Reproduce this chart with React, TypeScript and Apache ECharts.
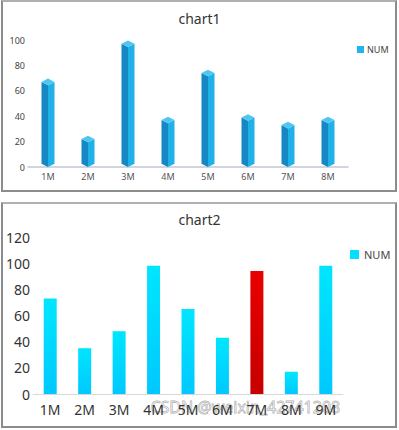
import React, { useEffect, useRef } from "react";
import * as echarts from "echarts";

const months1 = ["1M", "2M", "3M", "4M", "5M", "6M", "7M", "8M"];
const values1 = [67, 22, 97, 37, 74, 39, 33, 37];
const yTicks1 = [0, 20, 40, 60, 80, 100];

const months2 = ["1M", "2M", "3M", "4M", "5M", "6M", "7M", "8M", "9M"];
const values2 = [73, 35, 48, 98, 65, 43, 94, 17, 98];
const highlightMonth2 = "7M";
const yTicks2 = [0, 20, 40, 60, 80, 100, 120];

const seriesName = "NUM";
const FONT = "'Noto Sans', 'Open Sans', sans-serif";

function Chart1() {
  const ref = useRef<HTMLDivElement>(null);
  useEffect(() => {
    const chart = echarts.init(ref.current!, null, { renderer: "svg" });
    const hw = 6.5;
    const o = 3.3;
    chart.setOption({
      animation: false,
      textStyle: { fontFamily: FONT },
      title: {
        text: "chart1",
        left: "center",
        top: 6,
        textStyle: { fontSize: 14, fontWeight: "normal", color: "#333", fontFamily: FONT },
      },
      legend: {
        left: 352,
        top: 40,
        itemWidth: 7,
        itemHeight: 7,
        itemGap: 4,
        icon: "rect",
        textStyle: { fontSize: 9, color: "#444", fontFamily: FONT, padding: [0, 0, 0, -2] },
        data: [{ name: seriesName, itemStyle: { color: "#22b2ec" } }],
      },
      grid: { left: 28, right: 51, top: 40, bottom: 28 },
      xAxis: {
        type: "category",
        data: months1,
        axisLine: { lineStyle: { color: "#c2c8d6", width: 1.5 } },
        axisTick: { length: 3, lineStyle: { color: "#c2c8d6" } },
        axisLabel: { fontSize: 9, color: "#555", margin: 5, fontFamily: FONT },
      },
      yAxis: {
        type: "value",
        min: yTicks1[0],
        max: yTicks1[yTicks1.length - 1],
        interval: 20,
        axisLine: { show: false },
        axisTick: { show: false },
        splitLine: { show: false },
        axisLabel: { fontSize: 9, color: "#444", margin: 3, fontFamily: FONT },
      },
      series: [
        {
          name: seriesName,
          type: "custom",
          itemStyle: { color: "#22b2ec" },
          encode: { x: 0, y: 1 },
          data: values1.map((v, i) => [i, v]),
          renderItem: (params: any, api: any) => {
            const top = api.coord([api.value(0), api.value(1)]);
            const bot = api.coord([api.value(0), 0]);
            const cx = top[0];
            const ty = top[1];
            const by = bot[1];
            return {
              type: "group",
              children: [
                {
                  type: "polygon",
                  shape: { points: [[cx - hw, ty], [cx, ty + o], [cx, by], [cx - hw, by - o]] },
                  style: { fill: "#1588c3" },
                },
                {
                  type: "polygon",
                  shape: { points: [[cx, ty + o], [cx + hw, ty], [cx + hw, by - o], [cx, by]] },
                  style: { fill: "#20b1e9" },
                },
                {
                  type: "polygon",
                  shape: { points: [[cx, ty - o], [cx + hw, ty], [cx, ty + o], [cx - hw, ty]] },
                  style: { fill: "#4fc6f2" },
                },
              ],
            };
          },
        },
      ],
    });
    return () => chart.dispose();
  }, []);
  return <div ref={ref} style={{ position: "absolute", left: 0, top: 0, width: 399, height: 195 }} />;
}

function Chart2() {
  const ref = useRef<HTMLDivElement>(null);
  useEffect(() => {
    const chart = echarts.init(ref.current!, null, { renderer: "svg" });
    const cyan = new echarts.graphic.LinearGradient(0, 0, 0, 1, [
      { offset: 0, color: "#00e6ff" },
      { offset: 1, color: "#00c8ff" },
    ]);
    const red = new echarts.graphic.LinearGradient(0, 0, 0, 1, [
      { offset: 0, color: "#e80000" },
      { offset: 1, color: "#c60000" },
    ]);
    chart.setOption({
      animation: false,
      textStyle: { fontFamily: FONT },
      title: {
        text: "chart2",
        left: "center",
        top: 12,
        textStyle: { fontSize: 14, fontWeight: "normal", color: "#333", fontFamily: FONT },
      },
      legend: {
        left: 345,
        top: 49,
        itemWidth: 9,
        itemHeight: 9,
        icon: "rect",
        textStyle: { fontSize: 11, color: "#444", fontFamily: FONT },
        data: [{ name: seriesName, itemStyle: { color: "#00dfff" } }],
      },
      grid: { left: 33, right: 56, top: 42, bottom: 36 },
      xAxis: {
        type: "category",
        data: months2,
        axisLine: { lineStyle: { color: "#d9d9d9" } },
        axisTick: { length: 4, lineStyle: { color: "#d9d9d9" } },
        axisLabel: { fontSize: 14, color: "#333", margin: 8, fontFamily: FONT },
      },
      yAxis: {
        type: "value",
        min: yTicks2[0],
        max: yTicks2[yTicks2.length - 1],
        interval: 20,
        axisLine: { show: false },
        axisTick: { show: false },
        splitLine: { show: false },
        axisLabel: { fontSize: 14, color: "#333", margin: 3, fontFamily: FONT },
      },
      series: [
        {
          name: seriesName,
          type: "bar",
          barWidth: 13,
          itemStyle: { color: "#00e0ff" },
          data: values2.map((v, i) => ({
            value: v,
            itemStyle: { color: months2[i] === highlightMonth2 ? red : cyan },
          })),
        },
      ],
      graphic: [
        {
          type: "text",
          left: 150,
          top: 204,
          silent: true,
          style: {
            text: "CSDN @weixin_42741208",
            fontSize: 16,
            fontFamily: FONT,
            fill: "rgba(255,255,255,0.35)",
            stroke: "rgba(110,110,110,0.6)",
            lineWidth: 0.8,
          },
        },
      ],
    });
    return () => chart.dispose();
  }, []);
  return <div ref={ref} style={{ position: "absolute", left: 0, top: 195, width: 399, height: 235 }} />;
}

export default function App() {
  const box = (top: number, height: number): React.CSSProperties => ({
    position: "absolute",
    left: 1,
    top,
    width: 396,
    height,
    boxSizing: "border-box",
    borderTop: "2px solid #b0b0b0",
    borderLeft: "2px solid #8c8c8c",
    borderRight: "2px solid #8c8c8c",
    borderBottom: "2px solid #8c8c8c",
    pointerEvents: "none",
  });
  return (
    <div style={{ position: "absolute", left: 0, top: 0, width: 399, height: 430, background: "#fff", overflow: "hidden" }}>
      <Chart1 />
      <Chart2 />
      <div style={box(0, 192)} />
      <div style={box(202, 226)} />
    </div>
  );
}
